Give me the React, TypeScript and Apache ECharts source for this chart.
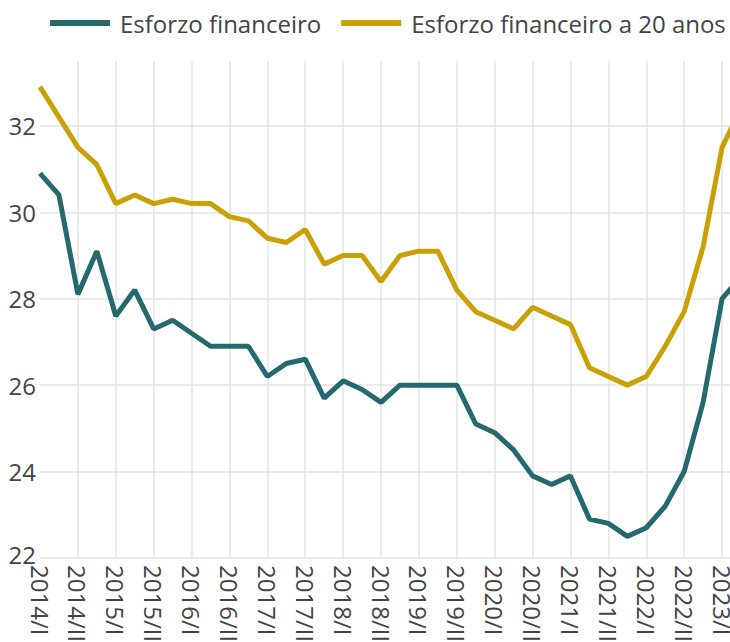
import React, { useEffect, useRef } from "react";
import * as echarts from "echarts";

const quarters = [
  "2014/I", "2014/II", "2014/III", "2014/IV",
  "2015/I", "2015/II", "2015/III", "2015/IV",
  "2016/I", "2016/II", "2016/III", "2016/IV",
  "2017/I", "2017/II", "2017/III", "2017/IV",
  "2018/I", "2018/II", "2018/III", "2018/IV",
  "2019/I", "2019/II", "2019/III", "2019/IV",
  "2020/I", "2020/II", "2020/III", "2020/IV",
  "2021/I", "2021/II", "2021/III", "2021/IV",
  "2022/I", "2022/II", "2022/III", "2022/IV",
  "2023/I", "2023/II",
];

const esforzo = [
  30.9, 30.4, 28.1, 29.1, 27.6, 28.2, 27.3, 27.5, 27.2, 26.9, 26.9, 26.9,
  26.2, 26.5, 26.6, 25.7, 26.1, 25.9, 25.6, 26.0, 26.0, 26.0, 26.0, 25.1,
  24.9, 24.5, 23.9, 23.7, 23.9, 22.9, 22.8, 22.5, 22.7, 23.2, 24.0, 25.6,
  28.0, 28.5,
];

const esforzo20 = [
  32.9, 32.2, 31.5, 31.1, 30.2, 30.4, 30.2, 30.3, 30.2, 30.2, 29.9, 29.8,
  29.4, 29.3, 29.6, 28.8, 29.0, 29.0, 28.4, 29.0, 29.1, 29.1, 28.2, 27.7,
  27.5, 27.3, 27.8, 27.6, 27.4, 26.4, 26.2, 26.0, 26.2, 26.9, 27.7, 29.2,
  31.5, 32.4,
];

const seriesNames = ["Esforzo financeiro", "Esforzo financeiro a 20 anos"];
const colors = ["#24696D", "#C9A107"];

export default function App() {
  const ref = useRef<HTMLDivElement>(null);
  useEffect(() => {
    if (!ref.current) return;
    const chart = echarts.init(ref.current, undefined, { renderer: "svg" });
    const font = "'Open Sans', 'Noto Sans', sans-serif";
    chart.setOption({
      animation: false,
      backgroundColor: "#ffffff",
      color: colors,
      textStyle: { fontFamily: font },
      legend: {
        top: 8,
        left: 50,
        padding: 0,
        itemGap: 20,
        itemWidth: 60,
        itemHeight: 6,
        icon: "rect",
        textStyle: {
          fontFamily: font,
          fontSize: 24,
          color: "#444",
          lineHeight: 30,
          padding: [0, 0, 0, 5],
        },
        data: seriesNames,
      },
      grid: {
        left: 40,
        right: 19,
        top: 61,
        bottom: 142,
        containLabel: false,
        outerBoundsMode: "none",
      },
      xAxis: {
        type: "category",
        data: quarters,
        boundaryGap: false,
        axisLine: { show: false },
        axisTick: { show: false },
        axisLabel: {
          interval: 1,
          rotate: -90,
          fontSize: 24,
          color: "#444",
          margin: 7,
          fontFamily: font,
        },
        splitLine: {
          show: true,
          interval: 1,
          showMinLine: false,
          lineStyle: { color: "#e4e4e4", width: 1.5 },
        },
      },
      yAxis: {
        type: "value",
        min: 22,
        max: 33.5,
        interval: 2,
        axisLine: { show: false },
        axisTick: { show: false },
        axisLabel: {
          fontSize: 24,
          color: "#444",
          margin: 4,
          showMaxLabel: false,
          fontFamily: font,
          formatter: (v: number) => (v === 22 ? "{low|" + v + "}" : String(v)),
          rich: {
            low: {
              fontSize: 24,
              color: "#444",
              fontFamily: font,
              padding: [0, 0, 8, 0],
            },
          },
        },
        splitLine: {
          show: true,
          showMaxLine: false,
          lineStyle: { color: "#e4e4e4", width: 1.5 },
        },
      },
      series: [
        {
          name: seriesNames[0],
          type: "line",
          data: esforzo,
          symbol: "none",
          lineStyle: { width: 5, color: colors[0] },
        },
        {
          name: seriesNames[1],
          type: "line",
          data: esforzo20,
          symbol: "none",
          lineStyle: { width: 5, color: colors[1] },
        },
      ],
    });
    return () => chart.dispose();
  }, []);

  return (
    <div
      style={{
        position: "fixed",
        left: 0,
        top: 0,
        width: 730,
        height: 642,
        overflow: "hidden",
        background: "#fff",
      }}
    >
      <div ref={ref} style={{ width: 760, height: 700 }} />
    </div>
  );
}
